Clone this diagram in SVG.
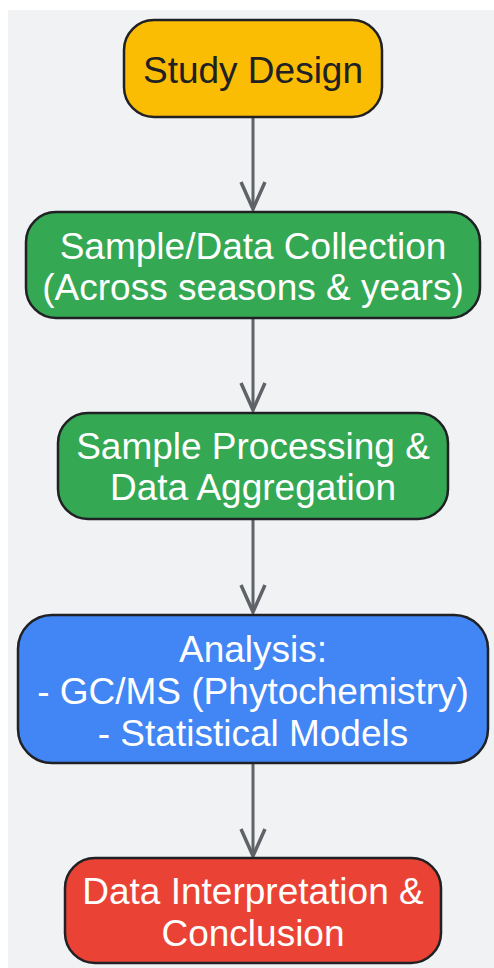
<svg xmlns="http://www.w3.org/2000/svg" width="494" height="968" viewBox="0 0 494 968">
  <style>
    .node rect { stroke: #202124; stroke-width: 2.5; }
    .node text { font-family: "Liberation Sans", Arial, sans-serif; font-size: 37px; text-anchor: middle; fill: #ffffff; }
    .node.dark text { fill: #202124; }
    .edge { stroke: #5f6368; stroke-width: 3; fill: none; marker-end: url(#arrow); }
  </style>
  <defs>
    <marker id="arrow" viewBox="0 0 30 28" refX="28" refY="14" markerWidth="30" markerHeight="28" markerUnits="userSpaceOnUse" orient="auto" overflow="visible">
      <path d="M1,2 L28,14 L1,26" fill="none" stroke="#5f6368" stroke-width="3.5" stroke-linejoin="miter"/>
    </marker>
  </defs>
  <rect x="8" y="10" width="486" height="958" fill="#f1f2f4"/>
  <g id="connectors">
    <line class="edge" x1="253" y1="117" x2="253" y2="209"/>
    <line class="edge" x1="253" y1="318" x2="253" y2="410"/>
    <line class="edge" x1="253" y1="519" x2="253" y2="612"/>
    <line class="edge" x1="253" y1="763" x2="253" y2="856"/>
  </g>
  <g id="study-design" class="node dark">
    <rect x="124" y="20" width="258" height="97" rx="30" ry="30" fill="#fbbc04"/>
    <text x="253" y="83">Study Design</text>
  </g>
  <g id="sample-collection" class="node">
    <rect x="26" y="212" width="454" height="106" rx="30" ry="30" fill="#34a853"/>
    <text x="253" y="259">Sample/Data Collection</text>
    <text x="253" y="300">(Across seasons &amp; years)</text>
  </g>
  <g id="sample-processing" class="node">
    <rect x="58" y="413" width="390" height="106" rx="30" ry="30" fill="#34a853"/>
    <text x="253" y="459">Sample Processing &amp;</text>
    <text x="253" y="500">Data Aggregation</text>
  </g>
  <g id="analysis" class="node">
    <rect x="18" y="615" width="470" height="148" rx="34" ry="34" fill="#4285f4"/>
    <text x="253" y="662">Analysis:</text>
    <text x="253" y="704">- GC/MS (Phytochemistry)</text>
    <text x="253" y="746">- Statistical Models</text>
  </g>
  <g id="interpretation" class="node">
    <rect x="65" y="858" width="376" height="105" rx="30" ry="30" fill="#ea4335"/>
    <text x="253" y="904">Data Interpretation &amp;</text>
    <text x="253" y="946">Conclusion</text>
  </g>
</svg>
